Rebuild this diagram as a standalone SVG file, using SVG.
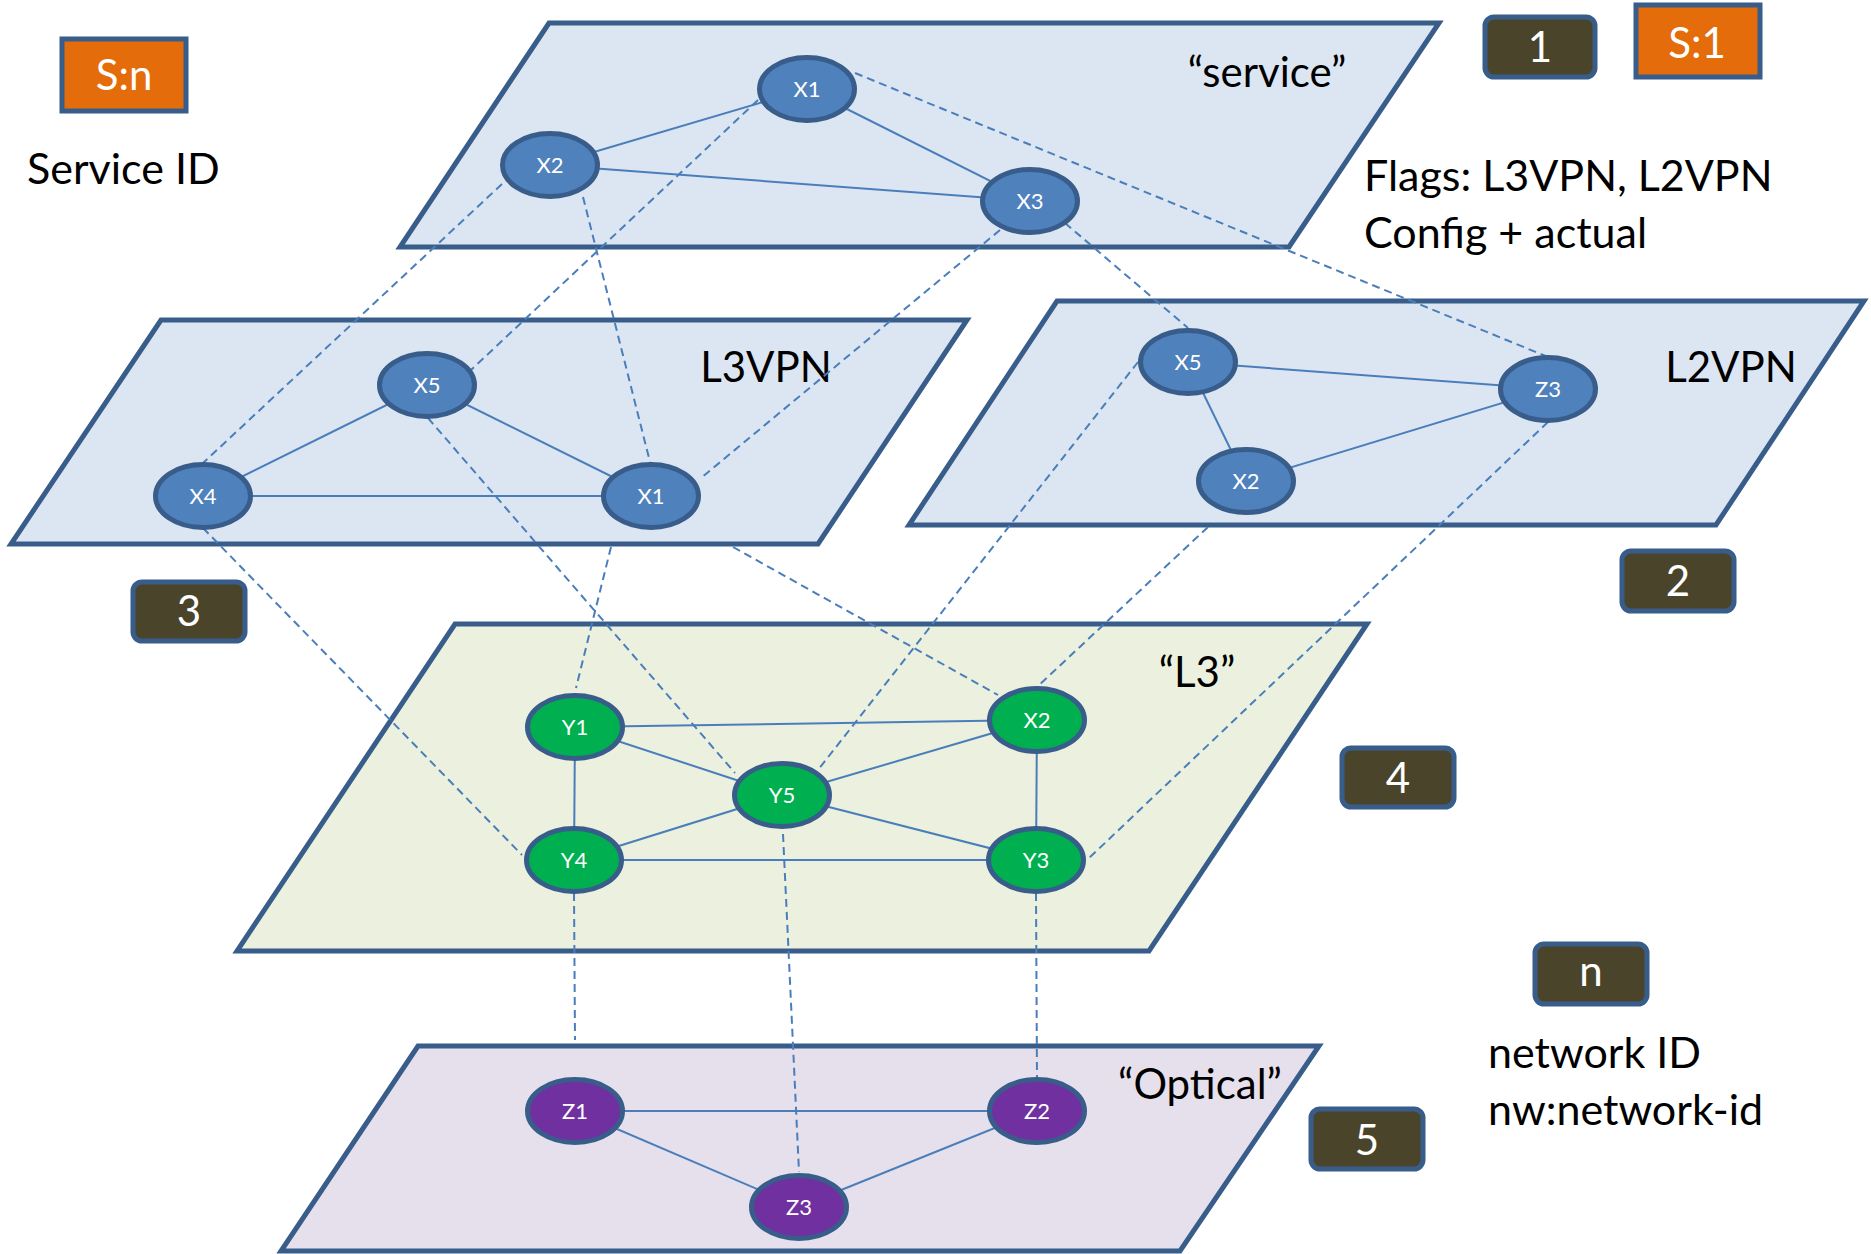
<svg xmlns="http://www.w3.org/2000/svg" width="1871" height="1254" viewBox="0 0 1871 1254">
<style>
.plane{stroke:#385D8A;stroke-width:5;stroke-linejoin:miter}
.pb{fill:#DCE6F2}
.pg{fill:#EBF1DE}
.pp{fill:#E5E0EC}
.edge{stroke:#4A7EBB;stroke-width:2;fill:none}
.dash{stroke:#4A7EBB;stroke-width:2;stroke-dasharray:8 5;fill:none}
.node ellipse{stroke:#385D8A;stroke-width:5}
.nb ellipse{fill:#4F81BD}
.ng ellipse{fill:#00B050}
.np ellipse{fill:#7030A0}
.node text{fill:#fff;font-family:Lato,'Open Sans',sans-serif;font-size:22px;text-anchor:middle}
.lbl{font-family:Lato,'Open Sans',sans-serif;font-size:42px;fill:#000}
.txt{font-family:Lato,'Open Sans',sans-serif;font-size:43px;fill:#000}
.badge rect{fill:#4A452A;stroke:#385D8A;stroke-width:5}
.badge text,.sid text{fill:#fff;font-family:Lato,'Open Sans',sans-serif;font-size:42px;text-anchor:middle}
.sid rect{fill:#E46C0A;stroke:#385D8A;stroke-width:5}
</style>
<rect width="1871" height="1254" fill="#fff"/>
<g id="layer-service"><polygon class="plane pb" points="549,23 1439,23 1289,247 400,247"/><text class="lbl" x="1267" y="87" text-anchor="middle">“service”</text></g>
<g id="layer-l3vpn"><polygon class="plane pb" points="161,320 967,320 818,544 11,544"/><text class="lbl" x="766" y="382" text-anchor="middle">L3VPN</text></g>
<g id="layer-l2vpn"><polygon class="plane pb" points="1057,301 1864,301 1716,525 909,525"/><text class="lbl" x="1731" y="382" text-anchor="middle">L2VPN</text></g>
<g id="layer-l3"><polygon class="plane pg" points="455,624 1367,624 1149,951 237,951"/><text class="lbl" x="1197" y="687" text-anchor="middle">“L3”</text></g>
<g id="layer-optical"><polygon class="plane pp" points="418,1046 1319,1046 1180,1251 281,1251"/><text class="lbl" x="1200" y="1099" text-anchor="middle">“Optical”</text></g>
<g id="connectors">
<line class="edge" x1="550" y1="165" x2="807" y2="89"/>
<line class="edge" x1="550" y1="165" x2="1030" y2="201"/>
<line class="edge" x1="807" y1="89" x2="1030" y2="201"/>
<line class="edge" x1="203" y1="496" x2="427" y2="385"/>
<line class="edge" x1="427" y1="385" x2="651" y2="496"/>
<line class="edge" x1="203" y1="496" x2="651" y2="496"/>
<line class="edge" x1="1188" y1="362" x2="1548" y2="389"/>
<line class="edge" x1="1188" y1="362" x2="1246" y2="481"/>
<line class="edge" x1="1246" y1="481" x2="1548" y2="389"/>
<line class="edge" x1="575" y1="727" x2="1037" y2="720"/>
<line class="edge" x1="575" y1="727" x2="782" y2="795"/>
<line class="edge" x1="575" y1="727" x2="574" y2="860"/>
<line class="edge" x1="782" y1="795" x2="1037" y2="720"/>
<line class="edge" x1="782" y1="795" x2="1036" y2="860"/>
<line class="edge" x1="782" y1="795" x2="574" y2="860"/>
<line class="edge" x1="574" y1="860" x2="1036" y2="860"/>
<line class="edge" x1="1037" y1="720" x2="1036" y2="860"/>
<line class="edge" x1="575" y1="1111" x2="1037" y2="1111"/>
<line class="edge" x1="575" y1="1111" x2="799" y2="1207"/>
<line class="edge" x1="799" y1="1207" x2="1037" y2="1111"/>
<line class="dash" x1="502" y1="184" x2="203" y2="463"/>
<line class="dash" x1="758" y1="100" x2="471" y2="370"/>
<line class="dash" x1="583" y1="197" x2="650" y2="462"/>
<line class="dash" x1="1000" y1="230" x2="701" y2="478"/>
<line class="dash" x1="1065" y1="223" x2="1188" y2="328"/>
<line class="dash" x1="855" y1="73" x2="1548" y2="357"/>
<line class="dash" x1="203" y1="528" x2="522" y2="855"/>
<line class="dash" x1="428" y1="418" x2="735" y2="773"/>
<line class="dash" x1="611" y1="547" x2="576" y2="688"/>
<line class="dash" x1="733" y1="547" x2="998" y2="695"/>
<line class="dash" x1="1138" y1="362" x2="818" y2="770"/>
<line class="dash" x1="1208" y1="527" x2="1037" y2="687"/>
<line class="dash" x1="1548" y1="422" x2="1087" y2="860"/>
<line class="dash" x1="574" y1="893" x2="575" y2="1040"/>
<line class="dash" x1="783" y1="834" x2="799" y2="1172"/>
<line class="dash" x1="1036" y1="893" x2="1037" y2="1078"/>
</g>
<g id="svc-x1" class="node nb"><ellipse cx="807" cy="89" rx="47.5" ry="31.5"/><text x="807" y="97">X1</text></g>
<g id="svc-x2" class="node nb"><ellipse cx="550" cy="165" rx="47.5" ry="31.5"/><text x="550" y="173">X2</text></g>
<g id="svc-x3" class="node nb"><ellipse cx="1030" cy="201" rx="47.5" ry="31.5"/><text x="1030" y="209">X3</text></g>
<g id="l3vpn-x5" class="node nb"><ellipse cx="427" cy="385" rx="47.5" ry="31.5"/><text x="427" y="393">X5</text></g>
<g id="l3vpn-x4" class="node nb"><ellipse cx="203" cy="496" rx="47.5" ry="31.5"/><text x="203" y="504">X4</text></g>
<g id="l3vpn-x1" class="node nb"><ellipse cx="651" cy="496" rx="47.5" ry="31.5"/><text x="651" y="504">X1</text></g>
<g id="l2vpn-x5" class="node nb"><ellipse cx="1188" cy="362" rx="47.5" ry="31.5"/><text x="1188" y="370">X5</text></g>
<g id="l2vpn-z3" class="node nb"><ellipse cx="1548" cy="389" rx="47.5" ry="31.5"/><text x="1548" y="397">Z3</text></g>
<g id="l2vpn-x2" class="node nb"><ellipse cx="1246" cy="481" rx="47.5" ry="31.5"/><text x="1246" y="489">X2</text></g>
<g id="l3-y1" class="node ng"><ellipse cx="575" cy="727" rx="47.5" ry="31.5"/><text x="575" y="735">Y1</text></g>
<g id="l3-x2" class="node ng"><ellipse cx="1037" cy="720" rx="47.5" ry="31.5"/><text x="1037" y="728">X2</text></g>
<g id="l3-y5" class="node ng"><ellipse cx="782" cy="795" rx="47.5" ry="31.5"/><text x="782" y="803">Y5</text></g>
<g id="l3-y4" class="node ng"><ellipse cx="574" cy="860" rx="47.5" ry="31.5"/><text x="574" y="868">Y4</text></g>
<g id="l3-y3" class="node ng"><ellipse cx="1036" cy="860" rx="47.5" ry="31.5"/><text x="1036" y="868">Y3</text></g>
<g id="opt-z1" class="node np"><ellipse cx="575" cy="1111" rx="47.5" ry="31.5"/><text x="575" y="1119">Z1</text></g>
<g id="opt-z2" class="node np"><ellipse cx="1037" cy="1111" rx="47.5" ry="31.5"/><text x="1037" y="1119">Z2</text></g>
<g id="opt-z3" class="node np"><ellipse cx="799" cy="1207" rx="47.5" ry="31.5"/><text x="799" y="1215">Z3</text></g>
<g id="badge-sn" class="sid"><rect x="62" y="39" width="124" height="72"/><text x="124" y="90">S:n</text></g>
<g id="badge-s1" class="sid"><rect x="1636" y="5" width="124" height="72"/><text x="1697" y="58">S:1</text></g>
<g id="badge-1" class="badge"><rect x="1485" y="17" width="110" height="60" rx="9"/><text x="1540" y="62">1</text></g>
<g id="badge-2" class="badge"><rect x="1622" y="551" width="112" height="60" rx="9"/><text x="1678" y="596">2</text></g>
<g id="badge-3" class="badge"><rect x="133" y="582" width="112" height="59" rx="9"/><text x="189" y="626">3</text></g>
<g id="badge-4" class="badge"><rect x="1342" y="748" width="112" height="59" rx="9"/><text x="1398" y="793">4</text></g>
<g id="badge-n" class="badge"><rect x="1535" y="944" width="112" height="60" rx="9"/><text x="1591" y="986">n</text></g>
<g id="badge-5" class="badge"><rect x="1311" y="1109" width="112" height="60" rx="9"/><text x="1367" y="1155">5</text></g>
<g id="notes">
<text class="txt" x="27" y="184">Service ID</text>
<text class="txt" x="1364" y="191">Flags: L3VPN, L2VPN</text>
<text class="txt" x="1364" y="248">Config + actual</text>
<text class="txt" x="1488" y="1068">network ID</text>
<text class="txt" x="1488" y="1125">nw:network-id</text>
</g>
</svg>
